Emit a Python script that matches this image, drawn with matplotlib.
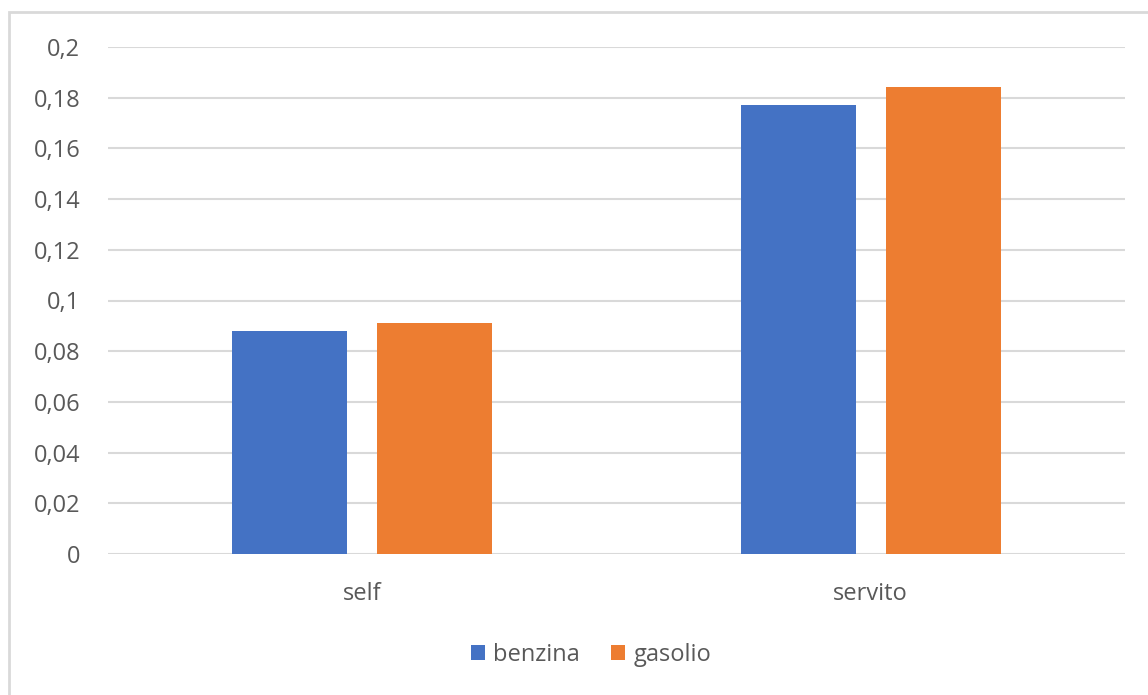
import matplotlib
matplotlib.use("Agg")
import matplotlib.pyplot as plt
import numpy as np
from matplotlib.ticker import FuncFormatter, MultipleLocator
from matplotlib.patches import Rectangle

categories = ["self", "servito"]
series_names = ["benzina", "gasolio"]
benzina = [0.088, 0.1771]
gasolio = [0.0911, 0.1842]
colors = ["#4472C4", "#ED7D31"]

plt.rcParams['font.family'] = ['Open Sans', 'DejaVu Sans']

W, H = 1148, 695
fig = plt.figure(figsize=(W/100, H/100), dpi=100)
ax = fig.add_axes([108/W, (H-554)/H, (1125-108)/W, (554-47)/H])

x = np.arange(len(categories))
bw = 0.226
off = 0.1425
ax.bar(x - off, benzina, bw, color=colors[0], label=series_names[0], zorder=3)
ax.bar(x + off, gasolio, bw, color=colors[1], label=series_names[1], zorder=3)

ax.set_xlim(-0.5, 1.5)
ax.set_ylim(0, 0.2)
ax.yaxis.set_major_locator(MultipleLocator(0.02))

def fmt(v, pos):
    s = f"{v:.2f}".rstrip('0').rstrip('.')
    if s == '':
        s = '0'
    return s.replace('.', ',')

ax.yaxis.set_major_formatter(FuncFormatter(fmt))
ax.grid(axis='y', color='#d9d9d9', linewidth=1.5, zorder=0)
for sp in ax.spines.values():
    sp.set_visible(False)
ax.tick_params(axis='both', length=0, labelsize=17, colors='#595959')
ax.tick_params(axis='y', pad=20)
ax.tick_params(axis='x', pad=20)
ax.set_xticks(x)
ax.set_xticklabels(categories)

leg = fig.legend(loc='center', bbox_to_anchor=(591/W, (H-655)/H), ncol=2, frameon=False,
                 fontsize=17, handlelength=0.6, handleheight=0.6, handletextpad=0.35,
                 columnspacing=1.3)
for t in leg.get_texts():
    t.set_color('#595959')

# chart border
fig.add_artist(Rectangle((9/W, -0.05), 1.2, (H-12)/H + 0.05, transform=fig.transFigure,
                         fill=False, edgecolor='#d9d9d9', linewidth=2))

fig.savefig("out.png", dpi=100)
